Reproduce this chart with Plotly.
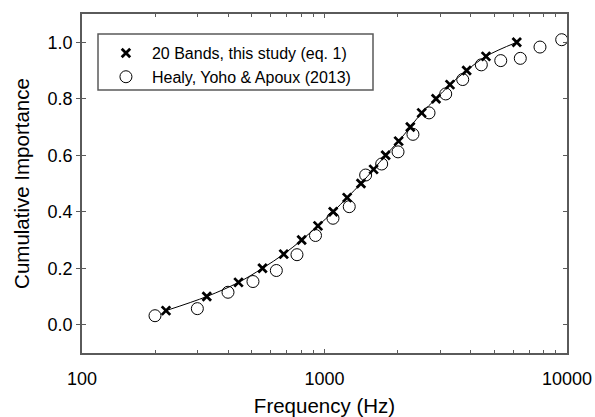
import plotly.graph_objects as go

# Data
bands_freq = [222, 327, 442, 555, 679, 805, 940, 1086, 1240, 1414, 1594, 1787,
              2022, 2259, 2516, 2883, 3292, 3856, 4633, 6206]
bands_imp = [0.05, 0.10, 0.15, 0.20, 0.25, 0.30, 0.35, 0.40, 0.45, 0.50, 0.55,
             0.60, 0.65, 0.70, 0.75, 0.80, 0.85, 0.90, 0.95, 1.00]

healy_freq = [200, 299, 400, 507, 633, 770, 918, 1084, 1265, 1478, 1721, 2010,
              2316, 2698, 3161, 3715, 4433, 5331, 6418, 7738, 9508]
healy_imp = [0.032, 0.057, 0.115, 0.153, 0.192, 0.248, 0.316, 0.377, 0.418,
             0.530, 0.569, 0.612, 0.674, 0.750, 0.817, 0.868, 0.920, 0.935,
             0.943, 0.983, 1.009]

x_ticks = [100, 1000, 10000]
x_minor = [200, 300, 400, 500, 600, 700, 800, 900,
           2000, 3000, 4000, 5000, 6000, 7000, 8000, 9000]
y_ticks = [0.0, 0.2, 0.4, 0.6, 0.8, 1.0]

FONT = "Liberation Sans, Arial, sans-serif"
AX = "#5a5a5a"

fig = go.Figure()
fig.add_trace(go.Scatter(x=bands_freq, y=bands_imp, mode="lines",
                         line=dict(color="black", width=1, shape="spline"),
                         showlegend=False, hoverinfo="skip"))
fig.add_trace(go.Scatter(x=bands_freq, y=bands_imp, mode="markers",
                         name="20 Bands, this study (eq. 1)",
                         marker=dict(symbol="x-thin", size=8.5, color="black",
                                     line=dict(width=2.8, color="black"))))
fig.add_trace(go.Scatter(x=healy_freq, y=healy_imp, mode="markers",
                         name="Healy, Yoho & Apoux (2013)",
                         marker=dict(symbol="circle-open", size=12, color="black",
                                     line=dict(width=1))))
# overlay axis for inward mirrored y ticks
fig.add_trace(go.Scatter(x=[100], y=[0], yaxis="y2", mode="markers",
                         marker=dict(opacity=0), showlegend=False, hoverinfo="skip"))

fig.update_layout(
    template="none",
    width=595, height=417,
    margin=dict(l=82, r=28, t=14, b=64),
    paper_bgcolor="white", plot_bgcolor="white",
    font=dict(family=FONT, size=16, color="black"),
    showlegend=True,
    legend=dict(x=0.037, y=0.935, xanchor="left", yanchor="top",
                borderwidth=0, bgcolor="rgba(0,0,0,0)",
                font=dict(size=16), tracegroupgap=0, itemwidth=42),
    shapes=[dict(type="rect", xref="paper", yref="paper",
                 x0=0.033, x1=0.6, y0=0.776, y1=0.941,
                 line=dict(color=AX, width=1.5), fillcolor="rgba(0,0,0,0)",
                 layer="below")],
    xaxis=dict(type="log", range=[2, 4], tickvals=x_ticks,
               ticktext=[str(v) for v in x_ticks], automargin=False,
               ticks="inside", ticklen=4, tickcolor=AX, tickwidth=1,
               showline=True, linecolor=AX, linewidth=1.5, mirror="ticks",
               showgrid=False, zeroline=False,
               minor=dict(ticks="inside", ticklen=3, tickcolor=AX,
                          tickvals=x_minor, showgrid=False),
               tickfont=dict(size=18), ticklabelstandoff=9,
               title=dict(text="Frequency (Hz)", font=dict(size=20.5), standoff=10)),
    yaxis=dict(range=[-0.1, 1.1], tickvals=y_ticks, automargin=False,
               ticktext=[f"{v:.1f}" for v in y_ticks],
               ticks="outside", ticklen=4, tickcolor=AX, tickwidth=1,
               showline=True, linecolor=AX, linewidth=1.5, mirror=True,
               showgrid=False, zeroline=False,
               tickfont=dict(size=18),
               title=dict(text="Cumulative Importance", font=dict(size=20.5), standoff=12)),
    yaxis2=dict(range=[-0.1, 1.1], overlaying="y", side="left",
                tickvals=y_ticks, showticklabels=False, automargin=False,
                ticks="inside", ticklen=4, tickcolor=AX, mirror="ticks",
                showline=False, showgrid=False, zeroline=False),
)

fig.write_html("out.html",
               config={"displayModeBar": False},
               post_script="document.body.style.margin='0';"
                           "document.body.style.overflow='hidden';")
